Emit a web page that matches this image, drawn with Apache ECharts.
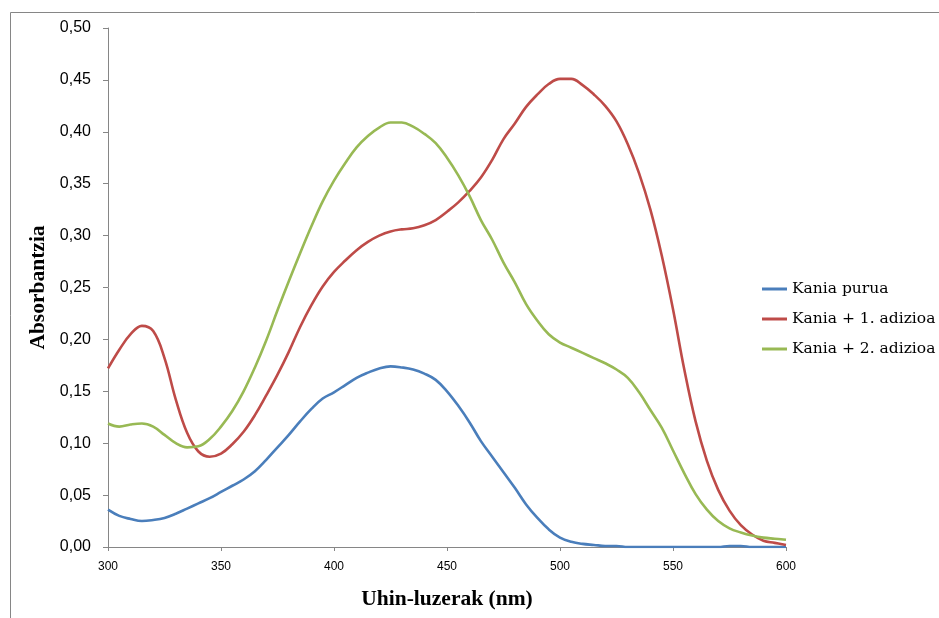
<!DOCTYPE html>
<html>
<head>
<meta charset="utf-8">
<script src="https://cdn.jsdelivr.net/npm/echarts@6/dist/echarts.min.js"></script>
<style>
  html, body { margin: 0; padding: 0; background: #fff; }
  #chart { width: 939px; height: 618px; }
</style>
</head>
<body>
<div id="chart"></div>
<script>
// Wavelengths (nm), sampled every 5 nm from 300 to 600
const wavelengths = [
  300,305,310,315,320,325,330,335,340,345,
  350,355,360,365,370,375,380,385,390,395,
  400,405,410,415,420,425,430,435,440,445,
  450,455,460,465,470,475,480,485,490,495,
  500,505,510,515,520,525,530,535,540,545,
  550,555,560,565,570,575,580,585,590,595,
  600
];

// Absorbance: pure sample
const kaniaPurua = [
  0.036,0.030,0.027,0.025,0.026,0.028,0.032,0.037,0.042,0.047,
  0.053,0.059,0.065,0.073,0.084,0.096,0.108,0.121,0.133,0.143,
  0.149,0.156,0.163,0.168,0.172,0.174,0.173,0.171,0.167,0.161,
  0.150,0.136,0.120,0.102,0.087,0.072,0.057,0.041,0.028,0.017,
  0.009,0.005,0.003,0.002,0.001,0.001,0.000,0.000,0.000,0.000,
  0.000,0.000,0.000,0.000,0.000,0.001,0.001,0.000,0.000,0.000,
  0.000
];

// Absorbance: after first addition
const kania1Adizioa = [
  0.172,0.190,0.205,0.213,0.208,0.182,0.142,0.110,0.092,0.087,
  0.090,0.099,0.111,0.127,0.146,0.166,0.188,0.212,0.233,0.251,
  0.265,0.276,0.286,0.294,0.300,0.304,0.306,0.307,0.310,0.315,
  0.323,0.332,0.343,0.356,0.373,0.393,0.408,0.424,0.436,0.446,
  0.451,0.451,0.445,0.436,0.425,0.410,0.388,0.360,0.325,0.281,
  0.229,0.171,0.121,0.083,0.055,0.035,0.021,0.012,0.006,0.004,
  0.002
];

// Absorbance: after second addition
const kania2Adizioa = [
  0.119,0.116,0.118,0.119,0.116,0.108,0.100,0.096,0.097,0.104,
  0.116,0.131,0.150,0.173,0.199,0.228,0.256,0.283,0.309,0.333,
  0.353,0.370,0.385,0.396,0.404,0.409,0.409,0.405,0.398,0.389,
  0.375,0.358,0.338,0.315,0.296,0.274,0.255,0.234,0.218,0.205,
  0.197,0.192,0.187,0.182,0.177,0.171,0.163,0.149,0.132,0.115,
  0.093,0.071,0.051,0.036,0.025,0.018,0.014,0.011,0.009,0.008,
  0.007
];

const seriesNames = ['Kania purua', 'Kania + 1. adizioa', 'Kania + 2. adizioa'];
const seriesColors = ['#4A7EBB', '#BE4B48', '#98B954'];
const seriesValues = [kaniaPurua, kania1Adizioa, kania2Adizioa];

const chart = echarts.init(document.getElementById('chart'), null, { renderer: 'canvas' });

const axisGray = '#868686';

const option = {
  animation: false,
  backgroundColor: '#ffffff',
  graphic: [{
    type: 'rect',
    shape: { x: 10.5, y: 12.5, width: 1000, height: 700 },
    style: { fill: 'none', stroke: axisGray, lineWidth: 1 },
    silent: true,
    z: -1
  }],
  grid: { left: 108, right: 153, top: 28, bottom: 71, containLabel: false },
  legend: {
    orient: 'vertical',
    left: 757,
    top: 276,
    icon: 'rect',
    itemWidth: 25,
    itemHeight: 3,
    itemGap: 14,
    textStyle: { fontFamily: 'DejaVu Serif', fontSize: 15.5, color: '#000' },
    data: seriesNames
  },
  xAxis: {
    type: 'value',
    min: 300,
    max: 600,
    interval: 50,
    name: 'Uhin-luzerak (nm)',
    nameLocation: 'middle',
    nameGap: 41,
    nameTextStyle: { fontFamily: 'Liberation Serif', fontWeight: 'bold', fontSize: 21.5, color: '#000' },
    axisLine: { show: true, lineStyle: { color: axisGray, width: 1 } },
    axisTick: { show: true, length: 4, lineStyle: { color: axisGray } },
    axisLabel: { margin: 14, fontFamily: 'Liberation Sans', fontSize: 12, color: '#000' },
    splitLine: { show: false }
  },
  yAxis: {
    type: 'value',
    min: 0,
    max: 0.5,
    interval: 0.05,
    name: 'Absorbantzia',
    nameLocation: 'middle',
    nameGap: 57,
    nameRotate: 90,
    nameTextStyle: { fontFamily: 'Liberation Serif', fontWeight: 'bold', fontSize: 21.5, color: '#000' },
    axisLine: { show: true, lineStyle: { color: axisGray, width: 1 } },
    axisTick: { show: true, length: 5, lineStyle: { color: axisGray } },
    axisLabel: {
      margin: 17,
      fontFamily: 'Liberation Sans',
      fontSize: 16,
      color: '#000',
      formatter: v => v.toFixed(2).replace('.', ',')
    },
    splitLine: { show: false }
  },
  series: seriesNames.map((name, i) => ({
    name,
    type: 'line',
    data: wavelengths.map((w, k) => [w, seriesValues[i][k]]),
    smooth: 0.4,
    symbol: 'none',
    color: seriesColors[i],
    lineStyle: { color: seriesColors[i], width: 2.6 }
  }))
};

chart.setOption(option);
</script>
</body>
</html>
